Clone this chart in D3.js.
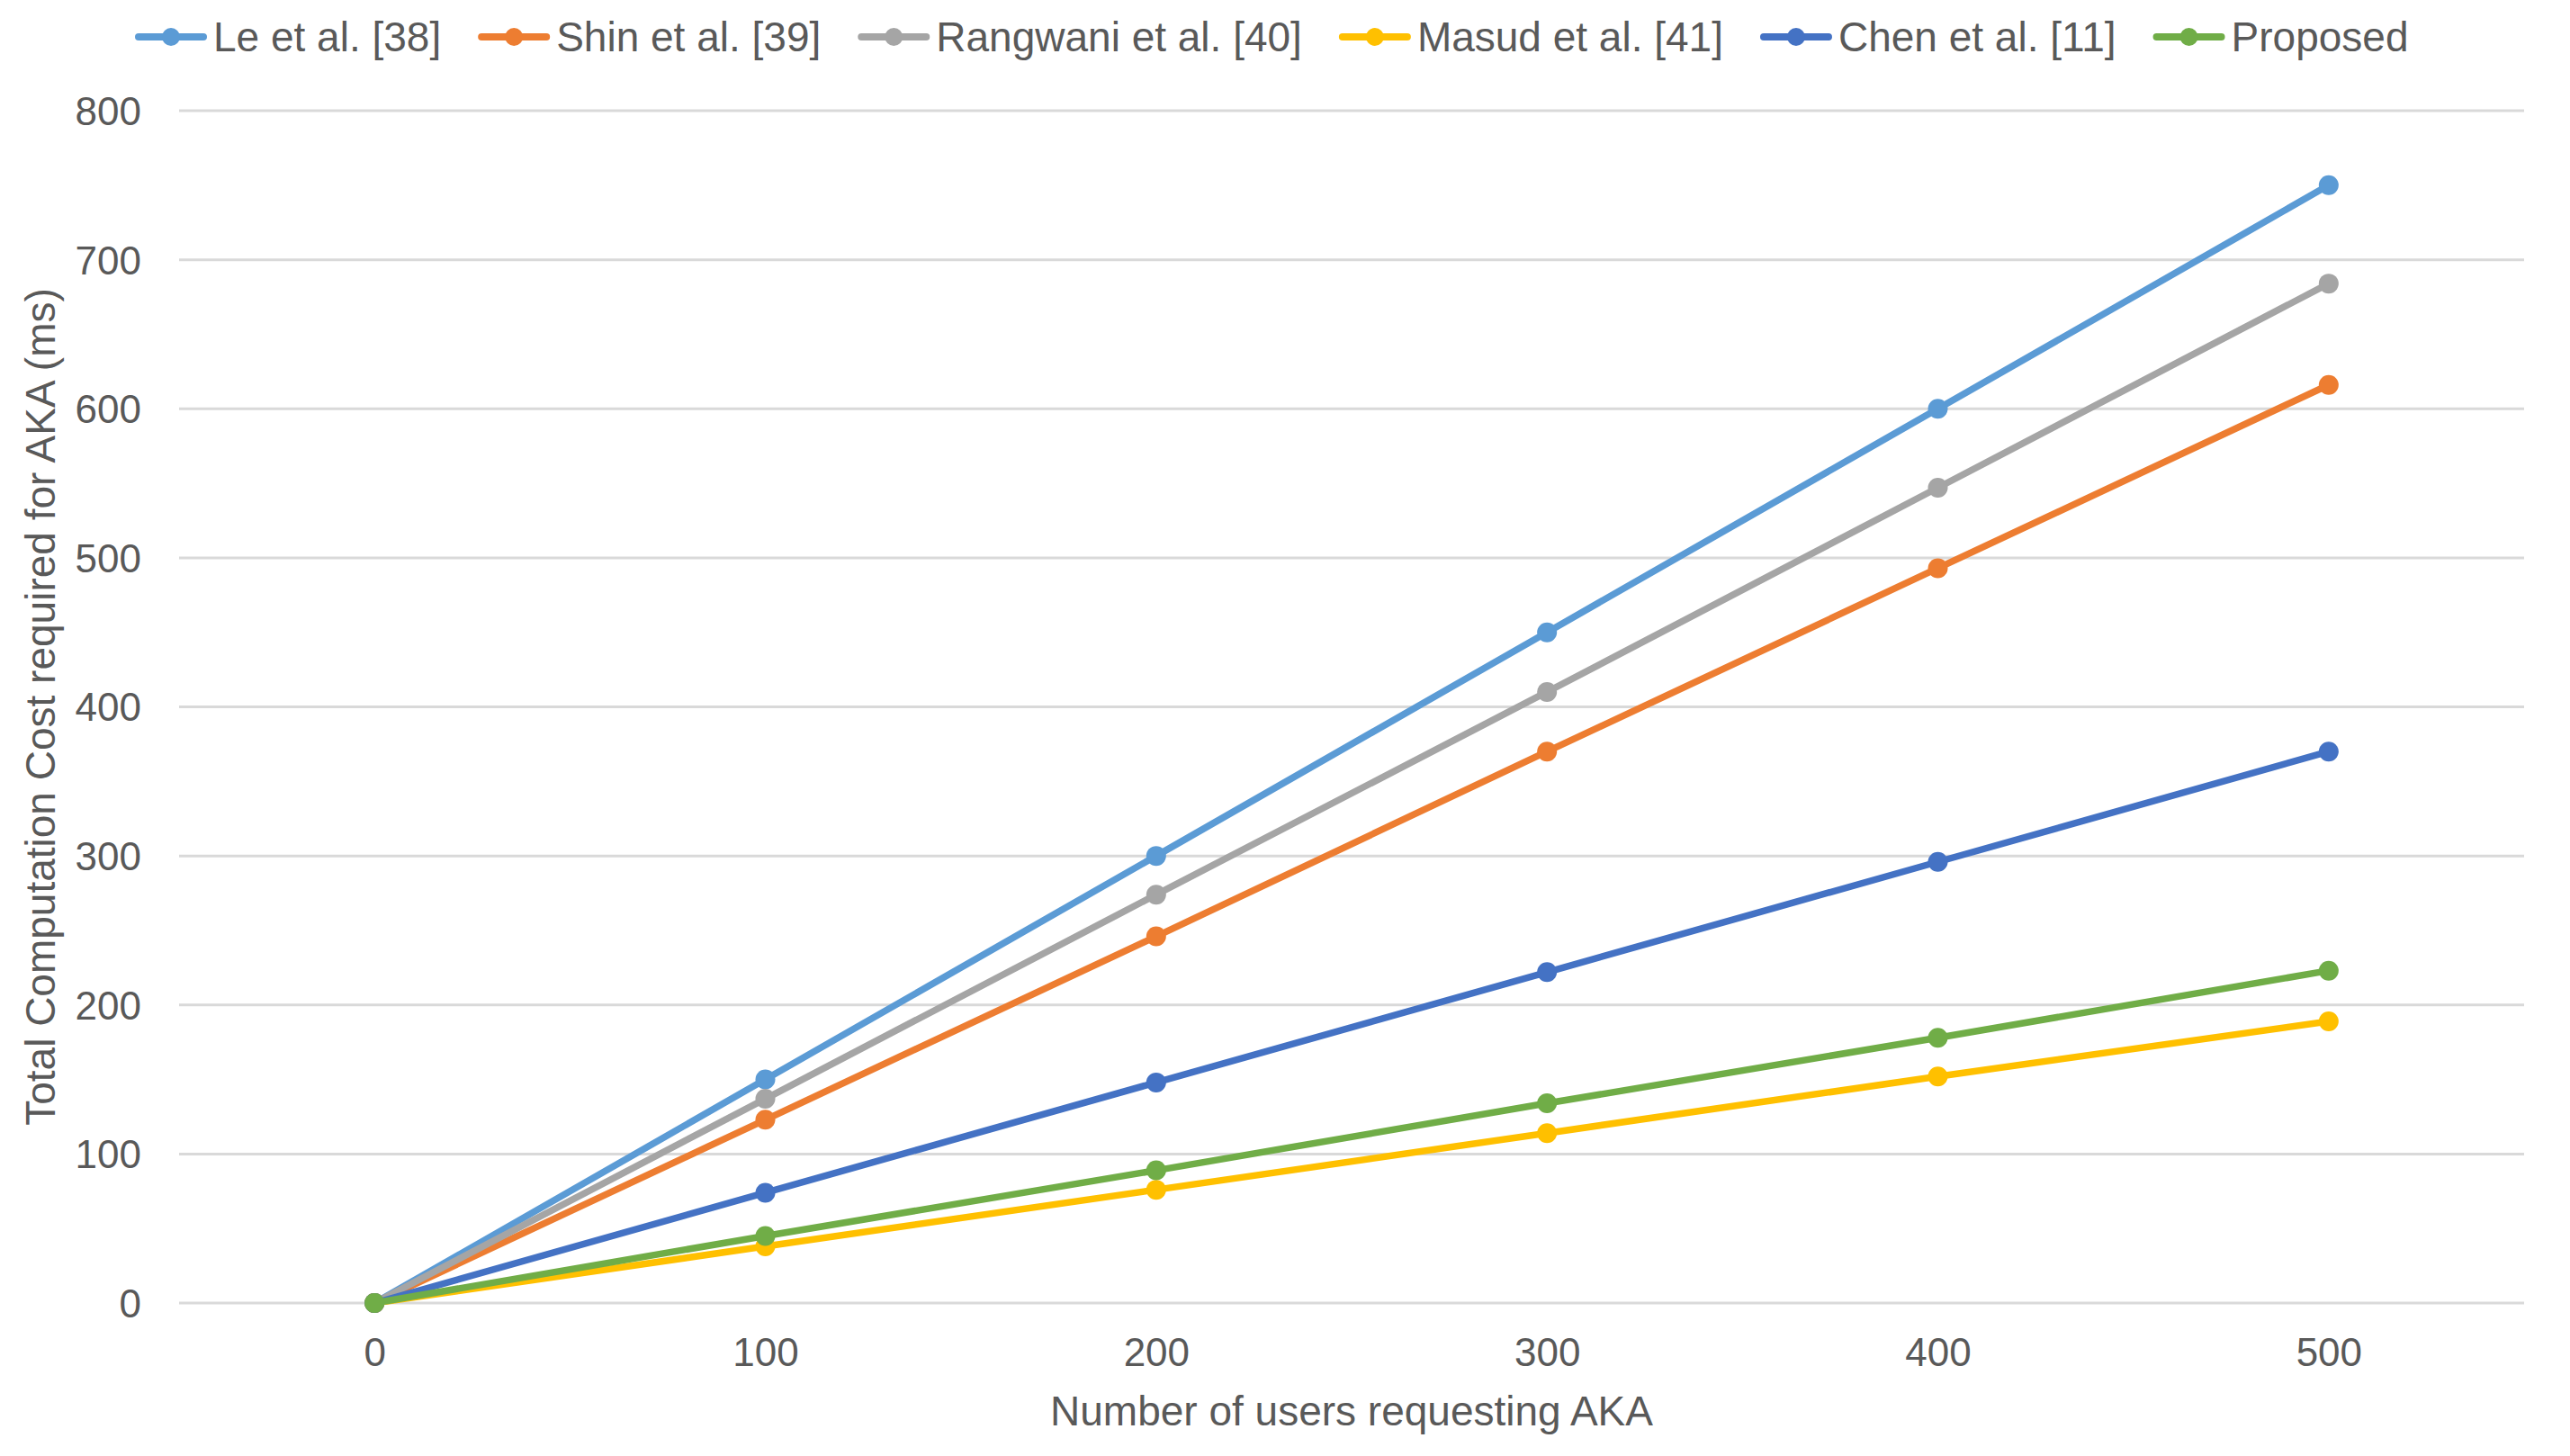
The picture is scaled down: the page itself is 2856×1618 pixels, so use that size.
<!DOCTYPE html>
<html>
<head>
<meta charset="utf-8">
<script src="https://cdn.jsdelivr.net/npm/d3@7"></script>
<style>
  html, body { margin: 0; padding: 0; background: #fff; }
  svg { display: block; font-family: "Liberation Sans", Arial, sans-serif; }
</style>
</head>
<body>
<svg id="chart" width="2856" height="1618"></svg>
<script>
(function () {
  "use strict";

  // ---- data ----
  const users = [0, 100, 200, 300, 400, 500];
  const yTicks = [0, 100, 200, 300, 400, 500, 600, 700, 800];

  const le = [0, 150, 300, 450, 600, 750];
  const shin = [0, 123, 246, 370, 493, 616];
  const rangwani = [0, 137, 274, 410, 547, 684];
  const masud = [0, 38, 76, 114, 152, 189];
  const chen = [0, 74, 148, 222, 296, 370];
  const proposed = [0, 45, 89, 134, 178, 223];

  const series = [
    { name: "Le et al. [38]", values: le, color: "#5B9BD5" },
    { name: "Shin et al. [39]", values: shin, color: "#ED7D31" },
    { name: "Rangwani et al. [40]", values: rangwani, color: "#A5A5A5" },
    { name: "Masud et al. [41]", values: masud, color: "#FFC000" },
    { name: "Chen et al. [11]", values: chen, color: "#4472C4" },
    { name: "Proposed", values: proposed, color: "#70AD47" },
  ];

  const TEXT = "#595959";
  const GRID = "#D9D9D9";
  const PLOT = { left: 199, right: 2805, top: 123, bottom: 1448 };

  const svg = d3.select("#chart");

  const x = d3.scalePoint().domain(users).range([PLOT.left, PLOT.right]).padding(0.5);
  const y = d3.scaleLinear().domain([0, 800]).range([PLOT.bottom, PLOT.top]);

  // gridlines
  svg.append("g")
    .selectAll("line")
    .data(yTicks)
    .join("line")
    .attr("x1", PLOT.left)
    .attr("x2", PLOT.right)
    .attr("y1", (d) => y(d))
    .attr("y2", (d) => y(d))
    .attr("stroke", GRID)
    .attr("stroke-width", 3);

  // y axis labels
  const yAxis = svg.append("g")
    .attr("transform", "translate(157,0)")
    .call(d3.axisLeft(y).tickValues(yTicks).tickSize(0).tickPadding(0));
  yAxis.select(".domain").remove();
  yAxis.selectAll("text")
    .attr("fill", TEXT)
    .attr("font-size", 44)
    .attr("dy", "0.35em");

  // x axis labels
  const xAxis = svg.append("g")
    .attr("transform", `translate(0,${PLOT.bottom})`)
    .call(d3.axisBottom(x).tickSize(0).tickPadding(0));
  xAxis.select(".domain").remove();
  xAxis.selectAll("text")
    .attr("fill", TEXT)
    .attr("font-size", 44)
    .attr("dy", null)
    .attr("y", 70);

  // axis titles
  svg.append("text")
    .attr("x", (PLOT.left + PLOT.right) / 2)
    .attr("y", 1584)
    .attr("text-anchor", "middle")
    .attr("fill", TEXT)
    .attr("font-size", 46)
    .text("Number of users requesting AKA");

  svg.append("text")
    .attr("transform", `translate(61,${(PLOT.top + PLOT.bottom) / 2}) rotate(-90)`)
    .attr("text-anchor", "middle")
    .attr("fill", TEXT)
    .attr("font-size", 46)
    .text("Total Computation Cost required for AKA (ms)");

  // lines + markers
  const line = d3.line()
    .x((d, i) => x(users[i]))
    .y((d) => y(d));

  const sg = svg.append("g")
    .selectAll("g.series")
    .data(series)
    .join("g")
    .attr("class", "series");

  sg.append("path")
    .attr("d", (d) => line(d.values))
    .attr("fill", "none")
    .attr("stroke", (d) => d.color)
    .attr("stroke-width", 7.5)
    .attr("stroke-linejoin", "round")
    .attr("stroke-linecap", "round");

  sg.selectAll("circle")
    .data((d) => d.values.map((v, i) => ({ v, i, color: d.color })))
    .join("circle")
    .attr("cx", (d) => x(users[d.i]))
    .attr("cy", (d) => y(d.v))
    .attr("r", 11)
    .attr("fill", (d) => d.color);

  // legend
  const legend = svg.append("g");
  let lx = 150;
  const ly = 41;
  series.forEach((s) => {
    const item = legend.append("g");
    item.append("line")
      .attr("x1", lx + 4).attr("x2", lx + 76)
      .attr("y1", ly).attr("y2", ly)
      .attr("stroke", s.color)
      .attr("stroke-width", 8)
      .attr("stroke-linecap", "round");
    item.append("circle")
      .attr("cx", lx + 40).attr("cy", ly).attr("r", 10)
      .attr("fill", s.color);
    const t = item.append("text")
      .attr("x", lx + 87)
      .attr("y", ly + 16)
      .attr("fill", TEXT)
      .attr("font-size", 46)
      .text(s.name);
    lx = lx + 87 + t.node().getComputedTextLength() + 41;
  });
})();
</script>
</body>
</html>
